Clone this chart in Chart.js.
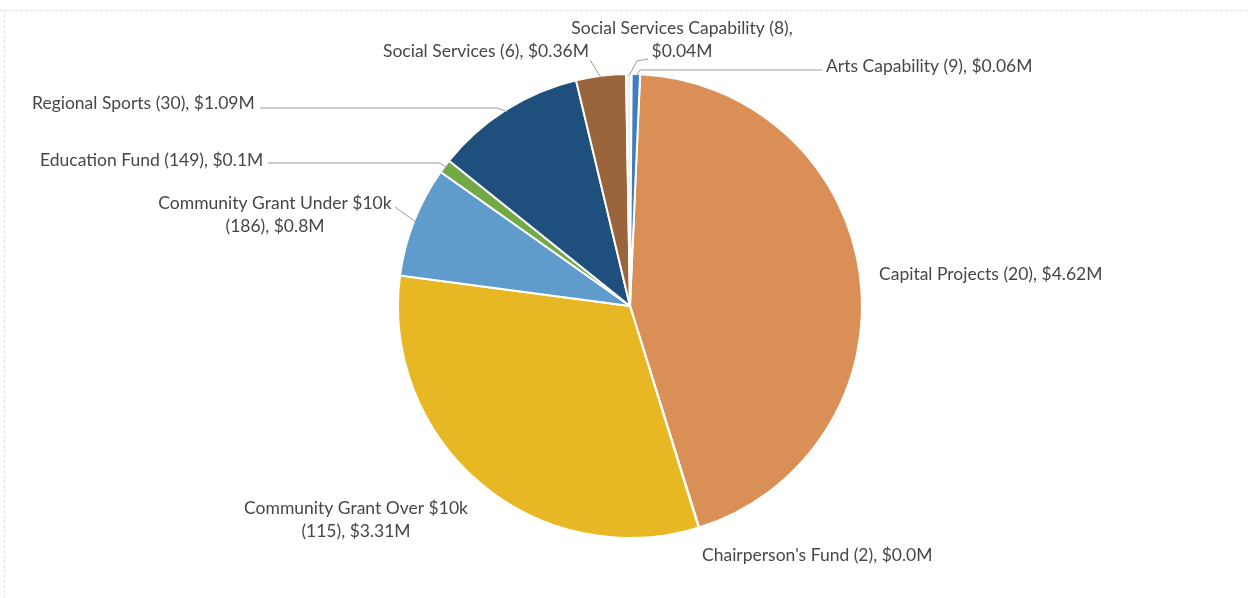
<!DOCTYPE html>
<html lang="en">
<head>
  <meta charset="UTF-8" />
  <title>Grants by Fund</title>
  <script src="https://cdn.jsdelivr.net/npm/chart.js"></script>
  <style>
    html, body { margin: 0; padding: 0; background: #ffffff; }
    #wrap { position: relative; width: 1248px; height: 598px; }
  </style>
</head>
<body>
  <div id="wrap"><canvas id="fundChart" width="1248" height="598"></canvas></div>

  <script>
    // data
    const categories = ["Capital Projects", "Chairperson's Fund", "Community Grant Over $10k", "Community Grant Under $10k",
                        "Education Fund", "Regional Sports", "Social Services", "Social Services Capability", "Arts Capability"];
    const counts = [20, 2, 115, 186, 149, 30, 6, 8, 9];
    const amounts = [4.62, 0.004, 3.31, 0.8, 0.1, 1.09, 0.36, 0.04, 0.06];
    const amountText = ["$4.62M", "$0.0M", "$3.31M", "$0.8M", "$0.1M", "$1.09M", "$0.36M", "$0.04M", "$0.06M"];
    const colors = ['#d98f55', '#d98f55', '#e8b824', '#5f9ccb', '#72a947', '#1f4f7c', '#9a653a', '#f0f0f0', '#3f7cc0'];

    // label placement (layout only): split = where the 2nd line starts, leader elbow points
    const labelLayout = [
      { x: 879, y: 274, align: 'left', split: null },
      { x: 702, y: 555, align: 'left', split: null },
      { x: 356, y: 508, align: 'center', split: 'name' },
      { x: 275, y: 203, align: 'center', split: 'name', lead: [[395, 207]] },
      { x: 40, y: 160, align: 'left', split: null, lead: [[268, 163], [440, 163]] },
      { x: 32, y: 103, align: 'left', split: null, lead: [[260, 108], [497, 108]] },
      { x: 383, y: 51, align: 'left', split: null, lead: [[590, 60]] },
      { x: 682, y: 28, align: 'center', split: 'count', lead: [[648, 59], [637, 61]] },
      { x: 826, y: 66, align: 'left', split: null, lead: [[822, 70], [640, 70]] }
    ];

    const labelPlugin = {
      id: 'outLabels',
      beforeDraw(chart) {
        const ctx = chart.ctx;
        ctx.save();
        ctx.strokeStyle = '#e3e3e3';
        ctx.lineWidth = 1;
        ctx.setLineDash([3, 2]);
        ctx.beginPath();
        ctx.moveTo(0, 10.5); ctx.lineTo(1248, 10.5);
        ctx.moveTo(4.5, 10); ctx.lineTo(4.5, 598);
        ctx.stroke();
        ctx.restore();
      },
      afterDraw(chart) {
        const ctx = chart.ctx;
        const arcs = chart.getDatasetMeta(0).data;
        ctx.save();
        ctx.font = '17.5px Lato';
        ctx.fillStyle = '#474747';
        ctx.textBaseline = 'middle';
        arcs.forEach((arc, i) => {
          const L = labelLayout[i];
          const name = categories[i];
          const cnt = '(' + counts[i] + '),';
          let lines;
          if (L.split === 'name') lines = [name, cnt + ' ' + amountText[i]];
          else if (L.split === 'count') lines = [name + ' ' + cnt, amountText[i]];
          else lines = [name + ' ' + cnt + ' ' + amountText[i]];
          ctx.textAlign = L.align;
          lines.forEach((t, k) => ctx.fillText(t, L.x, L.y + k * 23));
          if (L.lead) {
            const mid = (arc.startAngle + arc.endAngle) / 2;
            const r = arc.outerRadius - 2;
            const ex = arc.x + Math.cos(mid) * r;
            const ey = arc.y + Math.sin(mid) * r;
            ctx.strokeStyle = '#9a9a9a';
            ctx.lineWidth = 1;
            ctx.beginPath();
            ctx.moveTo(L.lead[0][0], L.lead[0][1]);
            for (let k = 1; k < L.lead.length; k++) ctx.lineTo(L.lead[k][0], L.lead[k][1]);
            ctx.lineTo(ex, ey);
            ctx.stroke();
          }
        });
        ctx.restore();
      }
    };

    new Chart(document.getElementById('fundChart'), {
      type: 'pie',
      data: {
        labels: categories,
        datasets: [{
          data: amounts,
          backgroundColor: colors,
          borderColor: '#ffffff',
          borderWidth: 2
        }]
      },
      options: {
        responsive: false,
        animation: false,
        rotation: 2.5,
        layout: { padding: { left: 397, right: 385, top: 73, bottom: 59 } },
        plugins: { legend: { display: false }, tooltip: { enabled: false } }
      },
      plugins: [labelPlugin]
    });
  </script>
</body>
</html>
